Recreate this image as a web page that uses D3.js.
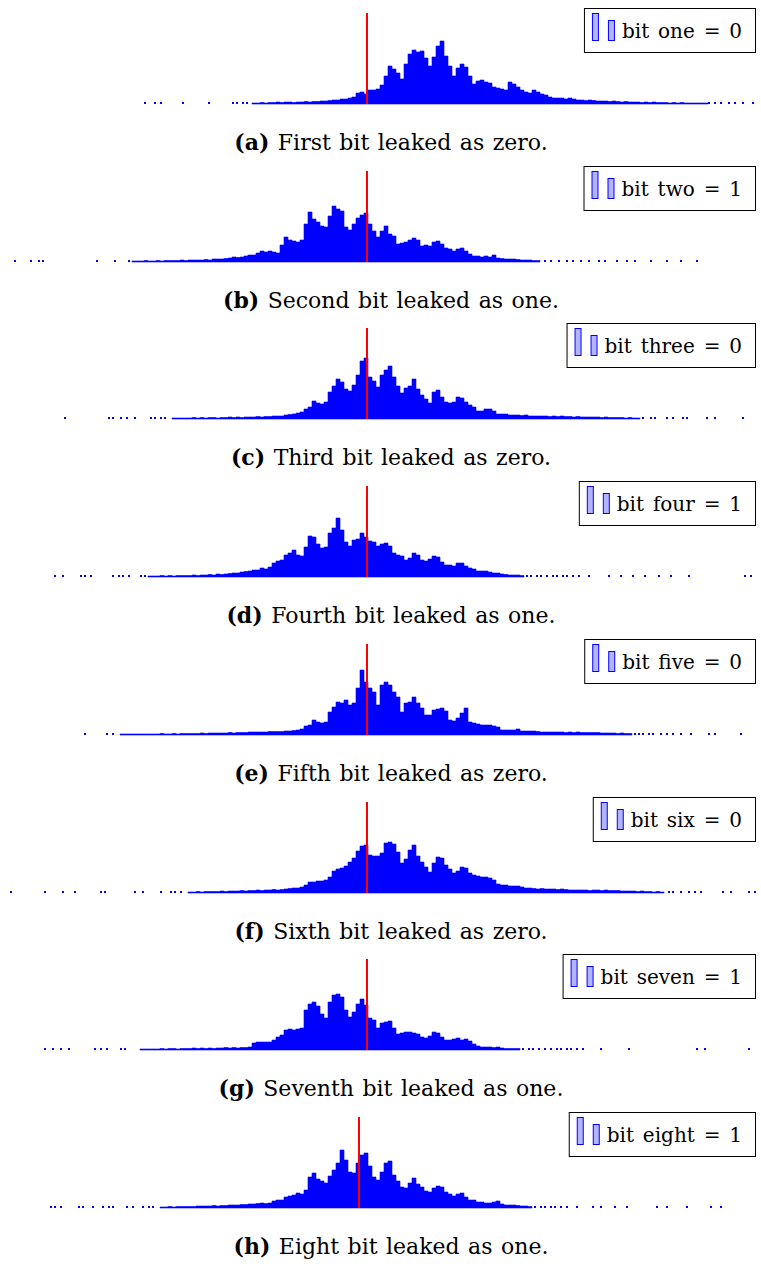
<!DOCTYPE html>
<html>
<head>
<meta charset="utf-8">
<script src="https://cdn.jsdelivr.net/npm/d3@7"></script>
<style>
  body { margin: 0; background: #fff; }
  text { font-family: "DejaVu Serif", "Liberation Serif", serif; }
</style>
</head>
<body>
<div id="container"></div>
<script>
let w = 761;
let h = 1264;

// histogram bodies, one count per bin, starting at bin starts[i]
let starts = [63, 33, 43, 37, 30, 47, 35, 40];

let countsA = [1,1,1.5,1,1.5,1.5,2,1.5,2,2,1.5,2,2,2.5,2,2.5,2.5,3,3,3.5,4,4,5,5,6,7,11,12,10,14,14,15,19,28,38,35,31,25,40,50,54,52,53,46,38,47,58,63,48,38,28,36,40,37,28,20,23,24,22,21,17,16,15,14,22,20,17,14,12,11,14,12,10,9,7,6,6,6,5,6,5,4,4,3.5,4,3.5,3,3,3,2.5,3,2.5,2,2.5,2,2,2,1.5,2,1.5,2,1.5,1.5,1.5,1,1.5,1,1.5,1,1,1,1,1,1];
let countsB = [1,1,1,1.5,1,1,1.5,1,1.5,1.5,1.5,1.5,2,1.5,2,2,2,2,2.5,2,3,3,3,3.5,4,5,4.5,5,6,7,7,9,11,10,11,10,9,17,25,22,21,20,22,38,50,43,40,36,35,46,56,53,51,35,32,38,44,47,49,38,31,25,31,36,28,26,18,19,20,22,24,22,16,17,16,20,21,18,14,13,11,13,14,11,8,6,6,5,6,5,7,4,3.5,3,3,3,2.5,2,2,2,1.5,1.5];
let countsC = [1,1,1,1,1,1.5,1,1.5,1,1.5,1.5,1,1.5,1.5,2,1.5,2,1.5,2,2,2,2.5,2,2.5,2.5,3,3,3,4,4.5,5,6,7,10,12,18,16,15,17,27,33,40,37,30,28,34,44,58,61,42,38,32,44,49,53,42,33,26,31,33,40,30,24,20,16,27,29,22,17,16,17,22,21,17,14,12,8,8,10,10,8,5,5,5,4,4,4,3.5,4,3,3,3,3,3,2.5,3,2.5,3,2.5,2.5,2,2.5,2,2,2,2,2,1.5,2,1.5,1.5,1.5,1.5,1,1.5,1,1];
let countsD = [1,1,1,1.5,1,1.5,1,1.5,1.5,1.5,1.5,2,1.5,2,2,2.5,2,3,2.5,3,3.5,4,4,5,5.5,6,7,7,9,8,10,14,16,17,22,24,27,22,21,30,41,40,33,29,30,44,49,59,47,35,31,37,38,44,40,36,35,31,33,34,31,24,22,21,17,19,24,22,17,16,18,21,20,15,12,12,11,14,14,11,9,8,6,6,6,5,4,4,3,2.5,2,2,2,1.5];
let countsE = [1,1,1,1,1,1,1,1,1,1,1.5,1,1,1.5,1,1.5,1.5,1.5,1.5,1.5,2,1.5,2,2,2,2,2,2.5,2,2.5,2.5,2.5,3,3,3,3,3,3.5,3.5,3.5,3.5,4,4,4.5,5,6,9,10,15,13,12,13,23,28,33,32,35,30,32,47,65,53,47,43,30,50,53,50,43,38,23,32,33,38,32,27,20,20,25,26,27,24,15,14,17,22,27,13,12,11,10,10,10,9,8,5,5,5,5,6,4,4,4,4,3.5,3,3,3,3,3,3,2.5,3,2.5,3,2.5,2.5,2.5,2.5,2.5,2,2,2,2,1.5,2,1.5,1.5];
let countsF = [1,1,1.5,1,1.5,1.5,1.5,1.5,2,1.5,2,2,2,2.5,2,2.5,2.5,3,2.5,3,3,3.5,3,3.5,4,4.5,5,5,6,8,11,11,12,12,13,16,22,24,25,27,31,35,42,47,48,38,37,37,40,50,51,49,41,30,34,43,48,37,31,26,21,30,36,35,28,24,20,22,26,25,20,18,17,16,16,15,13,9,8,8,7,7,7,6,5,5,4.5,4,4.5,4,4,4,3.5,4,3.5,3,3,3,3,3,2.5,3,3,2.5,3,2.5,2.5,2.5,2,2,2,2,1.5,2,1.5,1.5,1,1.5,1];
let countsG = [1,1,1,1,1,1.5,1,1.5,1.5,1,1.5,1.5,1.5,2,1.5,2,1.5,2,1.5,2,2,2.5,2,2.5,2,2.5,2.5,3,7,8,8,8,8,10,13,15,20,21,20,21,22,40,46,48,44,36,32,48,55,56,53,40,33,38,46,51,45,32,30,22,27,28,29,22,16,17,18,18,17,16,13,12,14,18,17,13,10,10,11,12,10,11,9,6,4,3,3,3,2.5,3,2,1.5,1.5,1.5,1.5];
let countsH = [1,1,1.5,1,1.5,1.5,1.5,1.5,1.5,2,2,2,2,2.5,2,2.5,2.5,3,3,3,3.5,3.5,4,4,4.5,5,4.5,5,7,8,8,11,12,13,15,14,18,31,35,29,27,25,32,38,45,58,48,36,35,45,53,55,42,31,28,36,45,47,33,27,21,20,25,30,24,21,17,16,20,22,21,16,14,12,14,15,11,8,8,6,6,5,5,6,7,4,3,3,3,2.5,2,2,1.5];

// lone single-sample bins out in the tails (bin positions)
let dotsA = [36, 38.5, 40, 45.5, 52, 58, 59, 60.5, 61.5, 177, 178.5, 180, 182, 183.5, 185.5, 188];
let dotsB = [3.5, 7.5, 9.5, 10.5, 24, 28.5, 32, 136, 137.5, 139.5, 141.5, 143, 145, 147, 149.5, 151, 154, 156.5, 158.5, 162.5, 166.5, 170, 174];
let dotsC = [16, 27, 28, 30, 31.5, 33.5, 37.5, 38.5, 40, 41, 160.5, 162.5, 163.5, 166.5, 168, 170.5, 171.5, 176.5, 178.5, 185.5];
let dotsD = [13.5, 15.5, 20, 21, 22.5, 28, 29.5, 30.5, 32, 35, 36, 131.5, 132.5, 134, 135, 136.5, 138, 139, 140.5, 141.5, 143, 144.5, 147, 152, 155, 158, 161, 164.5, 167.5, 172, 186, 187.5];
let dotsE = [21, 26.5, 28, 158.5, 159.5, 160.5, 162, 163, 165, 166.5, 168, 170, 172.5, 177, 178.5, 185];
let dotsF = [2.5, 11, 15.5, 18.5, 25, 26, 33.5, 35.5, 40, 42.5, 43.5, 45, 167, 168, 170, 172, 173.5, 175, 180.5, 182.5, 187, 188.5];
let dotsG = [11, 13, 15, 17, 23.5, 25, 26.5, 30, 31, 130.5, 132, 133, 134.5, 136, 137.5, 139, 140, 141.5, 142.5, 144, 145.5, 150, 157, 174, 176, 187];
let dotsH = [12.5, 13.5, 15, 19.5, 20.5, 23, 25.5, 27, 28, 31.5, 33, 35.5, 37, 38, 133.5, 135, 136, 137.5, 138.5, 140, 141.5, 144, 148, 150, 153.5, 156.5, 164, 166.5, 171.5, 177.5, 180];

// red threshold line (bin position)
let thresholds = [91.75, 91.75, 91.75, 91.75, 91.75, 91.75, 91.75, 89.75];

let legendLabels = ["bit one = 0", "bit two = 1", "bit three = 0", "bit four = 1",
                    "bit five = 0", "bit six = 0", "bit seven = 1", "bit eight = 1"];
let captionTags = ["(a)", "(b)", "(c)", "(d)", "(e)", "(f)", "(g)", "(h)"];
let captionTexts = ["First bit leaked as zero.", "Second bit leaked as one.", "Third bit leaked as zero.",
                    "Fourth bit leaked as one.", "Fifth bit leaked as zero.", "Sixth bit leaked as zero.",
                    "Seventh bit leaked as one.", "Eight bit leaked as one."];

let bodies = [countsA, countsB, countsC, countsD, countsE, countsF, countsG, countsH];
let dots = [dotsA, dotsB, dotsC, dotsD, dotsE, dotsF, dotsG, dotsH];

let panelStep = 157.7;
let plotTop = 13;
let plotH = 91;

let svg = d3.select("#container")
  .append("svg")
    .attr("width", w)
    .attr("height", h)
    .style("background-color", "white");

let x = d3.scaleLinear().domain([0, 190]).range([0, 760]);
let y = d3.scaleLinear().domain([0, 91]).range([plotTop + plotH, plotTop]);

let panels = svg.selectAll(".panel").data(d3.range(8)).enter()
  .append("g")
    .attr("class", "panel")
    .attr("transform", (d) => "translate(0," + Math.round(d * panelStep) + ")");

panels.each(function(i) {
  let g = d3.select(this);

  let bins = bodies[i].map((c, j) => ({x0: starts[i] + j, c: c}));
  bins.push({x0: starts[i] + bodies[i].length, c: bodies[i][bodies[i].length - 1]});

  let area = d3.area()
    .curve(d3.curveStepAfter)
    .x((d) => x(d.x0))
    .y0(y(0))
    .y1((d) => y(d.c));

  g.append("path")
    .datum(bins)
    .attr("d", area)
    .attr("fill", "#0000ff")
    .attr("stroke", "#0000ff")
    .attr("stroke-width", 0.6);

  g.selectAll(".dot").data(dots[i]).enter()
    .append("rect")
      .attr("class", "dot")
      .attr("x", (d) => x(d))
      .attr("width", x(0.5) - x(0))
      .attr("y", y(2))
      .attr("height", y(0) - y(2))
      .attr("fill", "#0000ff");

  g.append("line")
    .attr("x1", x(thresholds[i]))
    .attr("x2", x(thresholds[i]))
    .attr("y1", y(0))
    .attr("y2", y(91))
    .attr("stroke", "#ff0000")
    .attr("stroke-width", 2);

  // legend, anchored to the right edge
  let right = 755;
  let lg = g.append("g");
  let box = lg.append("rect");
  let label = lg.append("text")
    .attr("y", plotTop + 24.5)
    .style("font-size", "20px")
    .style("word-spacing", "2.5px")
    .text(legendLabels[i]);
  let tw = label.node().getComputedTextLength();
  let left = right - 13 - tw - 38;
  label.attr("x", left + 38);
  box.attr("x", left + 0.5).attr("y", plotTop - 5 + 0.5)
    .attr("width", right - left).attr("height", 44)
    .attr("fill", "white").attr("stroke", "#000").attr("stroke-width", 1);
  lg.append("rect")
    .attr("x", left + 8.5).attr("y", plotTop + 0.5).attr("width", 6).attr("height", 27)
    .attr("fill", "#b3b3ff").attr("stroke", "#0000ff").attr("stroke-width", 1);
  lg.append("rect")
    .attr("x", left + 24.5).attr("y", plotTop + 7.5).attr("width", 6).attr("height", 20)
    .attr("fill", "#b3b3ff").attr("stroke", "#0000ff").attr("stroke-width", 1);

  let cap = g.append("text")
    .attr("x", 391)
    .attr("y", y(0) + 46)
    .attr("text-anchor", "middle")
    .style("font-size", "22px")
    .style("word-spacing", "1.5px");
  cap.append("tspan").style("font-weight", "bold").text(captionTags[i]);
  cap.append("tspan").text(" " + captionTexts[i]);
});
</script>
</body>
</html>
